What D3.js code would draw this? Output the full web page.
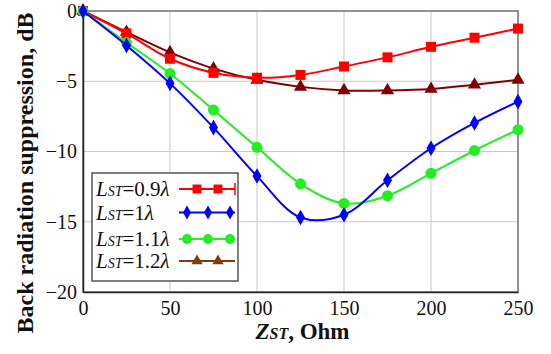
<!DOCTYPE html>
<html>
<head>
<meta charset="utf-8">
<script src="https://cdn.jsdelivr.net/npm/d3@7"></script>
<style>
  body { margin: 0; background: #fff; }
  svg text { font-family: 'Liberation Serif', 'Times New Roman', serif !important; }
</style>
</head>
<body>
<div id="chart"></div>
<script>
// data
const zst = [0, 25, 50, 75, 100, 125, 150, 175, 200, 225, 250];
const l09 = [0, -1.6, -3.4, -4.4, -4.75, -4.55, -3.95, -3.3, -2.55, -1.9, -1.25];
const l10 = [0, -2.45, -5.15, -8.3, -11.75, -14.7, -14.5, -12.05, -9.77, -7.97, -6.45];
const l11 = [0, -2.25, -4.45, -7.05, -9.7, -12.3, -13.7, -13.15, -11.55, -9.93, -8.45];
const l12 = [0, -1.5, -2.95, -4.1, -4.9, -5.4, -5.65, -5.65, -5.55, -5.25, -4.9];
const seriesNames = ["0.9", "1", "1.1", "1.2"];
const xTicks = [0, 50, 100, 150, 200, 250];
const yTicks = [0, -5, -10, -15, -20];

const W = 551, H = 354;
const margin = {top: 11, right: 33, bottom: 62, left: 83};
const width = W - margin.left - margin.right;
const height = H - margin.top - margin.bottom;

const svg = d3.select("#chart")
  .append("svg")
    .attr("width", W)
    .attr("height", H)
    .attr("font-family", "'Liberation Serif', serif");
const g = svg.append("g")
    .attr("transform", `translate(${margin.left},${margin.top})`);

const x = d3.scaleLinear().domain([0, 250]).range([0, width]);
const y = d3.scaleLinear().domain([-20, 0]).range([height, 0]);

// grid
g.append("g").selectAll("line.vx")
  .data(xTicks.slice(1, -1))
  .join("line")
    .attr("x1", d => x(d)).attr("x2", d => x(d))
    .attr("y1", 0).attr("y2", height)
    .attr("stroke", "#c8c8c8").attr("stroke-width", 1);
g.append("g").selectAll("line.hy")
  .data(yTicks.slice(1, -1))
  .join("line")
    .attr("x1", 0).attr("x2", width)
    .attr("y1", d => y(d)).attr("y2", d => y(d))
    .attr("stroke", "#c8c8c8").attr("stroke-width", 1);

// frame
g.append("rect")
  .attr("width", width).attr("height", height)
  .attr("fill", "none").attr("stroke", "#6e6e6e").attr("stroke-width", 1.5);

// axes
const xAxis = g.append("g")
  .attr("transform", `translate(0,${height})`)
  .call(d3.axisBottom(x).tickValues(xTicks).tickSize(0).tickPadding(6));
const yAxis = g.append("g")
  .call(d3.axisLeft(y).tickValues(yTicks).tickSize(0).tickPadding(6));
[xAxis, yAxis].forEach(a => {
  a.attr("font-family", null).attr("font-size", null);
  a.select(".domain").attr("stroke", "#222").attr("stroke-width", 1.5);
  a.selectAll("text")
    .style("font-size", "20px")
    .attr("fill", "#111");
});
xAxis.selectAll("text").attr("dy", "0.85em");

const series = [
  {name: seriesNames[0], values: l09, color: "#ff0000", shape: d3.symbolSquare, size: 100, legendColor: "#ff0000"},
  {name: seriesNames[1], values: l10, color: "#0000ff", shape: d3.symbolDiamond, size: 70, legendColor: "#0000ff"},
  {name: seriesNames[2], values: l11, color: "#22ee22", shape: d3.symbolCircle, size: 95, legendColor: "#22ee22"},
  {name: seriesNames[3], values: l12, color: "#800000", shape: d3.symbolTriangle, size: 75, legendColor: "#7a4010"}
];

const line = d3.line()
  .x((d, i) => x(zst[i]))
  .y(d => y(d))
  .curve(d3.curveCatmullRom.alpha(0.5));

// draw in back-to-front order
const order = [3, 0, 2, 1];
order.forEach(k => {
  const s = series[k];
  g.append("path")
    .datum(s.values)
    .attr("fill", "none")
    .attr("stroke", s.color)
    .attr("stroke-width", 2)
    .attr("d", line);
  g.append("g").selectAll("path")
    .data(s.values)
    .join("path")
      .attr("transform", (d, i) => `translate(${x(zst[i])},${y(d)})`)
      .attr("d", d3.symbol().type(s.shape).size(s.size))
      .attr("fill", s.color);
});

// legend
const lg = svg.append("g").attr("transform", "translate(92,173)");
lg.append("rect")
  .attr("width", 146).attr("height", 108)
  .attr("fill", "#fff").attr("stroke", "#555").attr("stroke-width", 1.5);
const rowY = [16, 39.5, 66, 88];
series.forEach((s, i) => {
  const row = lg.append("g").attr("transform", `translate(0,${rowY[i]})`);
  const t = row.append("text")
    .attr("x", 4).attr("y", 7)
    .style("font-size", "21px")
    .attr("fill", "#111");
  t.append("tspan").attr("font-style", "italic").text("L");
  t.append("tspan").attr("font-style", "italic").style("font-size", "14px").text("ST");
  t.append("tspan").text("=" + s.name);
  t.append("tspan").attr("font-style", "italic").text("λ");
  // sample line
  row.append("line")
    .attr("x1", 87).attr("x2", 143)
    .attr("stroke", s.legendColor).attr("stroke-width", 2);
  let mx;
  if (i === 0) {
    mx = [105, 126];
    row.append("line").attr("x1", 143).attr("x2", 143).attr("y1", -6).attr("y2", 6)
      .attr("stroke", s.legendColor).attr("stroke-width", 1.5);
  } else if (i === 3) {
    mx = [105, 126];
  } else {
    mx = [95, 116, 138];
  }
  row.selectAll("path.m")
    .data(mx)
    .join("path")
      .attr("transform", d => `translate(${d},0)`)
      .attr("d", d3.symbol().type(s.shape).size(i === 3 ? 55 : s.size * 0.8))
      .attr("fill", s.legendColor);
});

// axis titles
const xt = svg.append("text")
  .attr("x", margin.left + width / 2 + 2)
  .attr("y", 339)
  .attr("text-anchor", "middle")
  .style("font-size", "23px")
  .style("font-weight", "bold")
  .attr("fill", "#111");
xt.append("tspan").attr("font-style", "italic").text("Z");
xt.append("tspan").attr("font-style", "italic").style("font-size", "16px").text("ST");
xt.append("tspan").text(", Ohm");

svg.append("text")
  .attr("transform", `translate(33,173) rotate(-90)`)
  .attr("text-anchor", "middle")
  .style("font-size", "24px")
  .style("font-weight", "bold")
  .attr("fill", "#111")
  .text("Back radiation suppression, dB");
</script>
</body>
</html>
